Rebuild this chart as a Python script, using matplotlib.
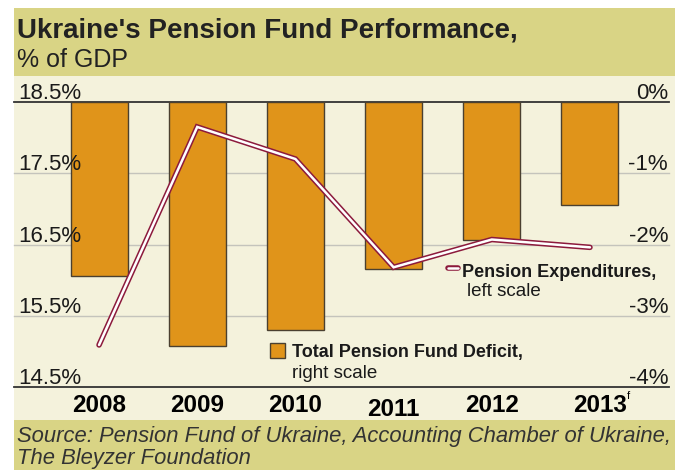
import matplotlib
matplotlib.use("Agg")
import matplotlib.pyplot as plt
import matplotlib.transforms as mtransforms
from matplotlib.patches import Rectangle
from matplotlib.lines import Line2D

# ---- data ----
years = ["2008", "2009", "2010", "2011", "2012", "2013"]
deficit = [-2.44, -3.42, -3.20, -2.34, -1.94, -1.44]          # right scale, % of GDP
expenditures = [15.09, 18.15, 17.70, 16.18, 16.57, 16.46]    # left scale, % of GDP
left_ticks = [14.5, 15.5, 16.5, 17.5, 18.5]
left_labels = ["14.5%", "15.5%", "16.5%", "17.5%", "18.5%"]
right_ticks = [-4, -3, -2, -1, 0]
right_labels = ["-4%", "-3%", "-2%", "-1%", "0%"]

FONT = "Liberation Sans"
plt.rcParams["font.family"] = [FONT, "DejaVu Sans"]

W, H = 675, 470
fig = plt.figure(figsize=(W / 100, H / 100), dpi=100)
fig.patch.set_facecolor("white")

KHAKI = "#d9d485"
CREAM = "#f4f2dc"
ORANGE = "#e0941a"
MAROON = "#8c1a3c"
DARK = "#1a1a1a"

def fy(py):
    return 1 - py / H

def fx(px):
    return px / W

# background bands
for (y0, y1, c) in [(8, 76, KHAKI), (76, 420, CREAM), (420, 470, KHAKI)]:
    fig.patches.append(Rectangle((fx(14), fy(y1)), 1 - fx(14), fy(y0) - fy(y1),
                                 transform=fig.transFigure, facecolor=c,
                                 edgecolor="none", zorder=-10))

# axes: pixels x 14..669, y 102..387
ax = fig.add_axes([fx(14), fy(387), fx(669) - fx(14), fy(102) - fy(387)])
ax.set_zorder(1)
ax.patch.set_alpha(0)
x = list(range(len(years)))
ax.set_xlim(-0.866, 5.805)
ax.set_ylim(-4, 0)
for s in ax.spines.values():
    s.set_visible(False)
ax.set_xticks([])
ax.set_yticks([])

# gridlines
for v in right_ticks:
    if v in (-4, 0):
        ax.axhline(v, color="#333333", lw=1.3, zorder=1, clip_on=False)
    else:
        ax.axhline(v, color="#c4c4bc", lw=1.0, zorder=1, clip_on=False)

ax.bar(x, deficit, width=0.58, bottom=0, color=ORANGE, edgecolor="#4a4030",
       linewidth=1.0, zorder=2)

ax2 = ax.twinx()
ax2.set_zorder(2)
ax2.patch.set_alpha(0)
ax2.set_ylim(14.5, 18.5)
for s in ax2.spines.values():
    s.set_visible(False)
ax2.set_yticks([])
ax2.plot(x, expenditures, color=MAROON, lw=4.0, solid_capstyle="round",
         solid_joinstyle="miter", zorder=3)
ax2.plot(x, expenditures, color="white", lw=1.8, solid_capstyle="round",
         solid_joinstyle="miter", zorder=4)

# tick labels
ltrans = mtransforms.offset_copy(ax2.get_yaxis_transform(), fig=fig, x=4, y=3, units="dots")
for v, lab in zip(left_ticks, left_labels):
    ax2.text(0, v, lab, transform=ltrans, ha="left", va="baseline",
             fontsize=16, color=DARK)
rtrans = mtransforms.offset_copy(ax.get_yaxis_transform(), fig=fig, x=-1, y=3, units="dots")
for v, lab in zip(right_ticks, right_labels):
    ax.text(1, v, lab, transform=rtrans, ha="right", va="baseline",
            fontsize=16, color=DARK)

# x labels (2011 sits a bit lower, 2013 shifted right to make room for the "f")
for i, yr in enumerate(years):
    offy = -11 if yr == "2011" else -7
    offx = 10 if yr == "2013" else 0
    tr = mtransforms.offset_copy(ax.get_xaxis_transform(), fig=fig, x=offx, y=offy, units="dots")
    ax.text(i, 0, yr, transform=tr, ha="center", va="top",
            fontsize=17.5, fontweight="bold", color="black")
ftr = mtransforms.offset_copy(ax.get_xaxis_transform(), fig=fig, x=37, y=-4, units="dots")
ax.text(5, 0, "f", transform=ftr, ha="left", va="top",
        fontsize=8, color="black")

# title
fig.text(fx(17), fy(38), "Ukraine's Pension Fund Performance,", fontsize=20,
         fontweight="bold", color="#222222", va="baseline", ha="left")
fig.text(fx(17), fy(67), "% of GDP", fontsize=18, color="#222222",
         va="baseline", ha="left")

# legends
fig.lines.append(Line2D([fx(448), fx(458)], [fy(268), fy(268)], transform=fig.transFigure,
                        color=MAROON, lw=4.0, solid_capstyle="round", zorder=5))
fig.lines.append(Line2D([fx(448), fx(458)], [fy(268), fy(268)], transform=fig.transFigure,
                        color="white", lw=1.8, solid_capstyle="round", zorder=6))
fig.text(fx(462), fy(277), "Pension Expenditures,", fontsize=13, fontweight="bold",
         color=DARK, va="baseline")
fig.text(fx(467), fy(296), "left scale", fontsize=13.5, color=DARK, va="baseline")

fig.patches.append(Rectangle((fx(270), fy(358)), fx(15), fy(343) - fy(358),
                             transform=fig.transFigure, facecolor=ORANGE,
                             edgecolor="#4a4030", lw=1.0, zorder=5))
fig.text(fx(292), fy(357), "Total Pension Fund Deficit,", fontsize=13, fontweight="bold",
         color=DARK, va="baseline")
fig.text(fx(292), fy(378), "right scale", fontsize=13.5, color=DARK, va="baseline")

# source
fig.text(fx(17), fy(442), "Source: Pension Fund of Ukraine, Accounting Chamber of Ukraine,",
         fontsize=15.8, style="italic", color="#333333", va="baseline")
fig.text(fx(17), fy(464), "The Bleyzer Foundation",
         fontsize=15.8, style="italic", color="#333333", va="baseline")

fig.savefig("out.png", dpi=100)
